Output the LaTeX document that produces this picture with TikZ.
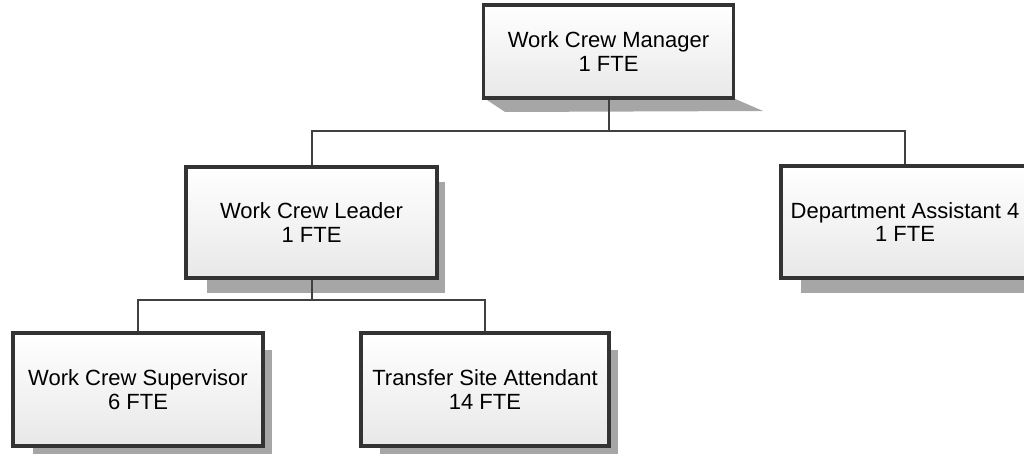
\documentclass[tikz,border=0pt]{standalone}
\usepackage{fontspec}
\setmainfont{Liberation Sans}
\begin{document}
\begin{tikzpicture}[x=1pt,y=-1pt,
  box/.style={draw=black!80, line width=3.5pt, top color=white, bottom color=black!9,
    minimum width=#1, inner sep=0pt, align=center,
    font=\fontsize{22}{23.5}\selectfont},
  conn/.style={draw=black!75, line width=2pt}]
\useasboundingbox (0,0) rectangle (1024,454);
% shadows
\fill[black!35] (484,98) -- (733,98) -- (763,111) -- (505,112) -- cycle;
\fill[black!35] (207,182) rectangle (445,293);
\fill[black!35] (801,181) rectangle (1040,293);
\fill[black!35] (33,350) rectangle (272,462);
\fill[black!35] (380,350) rectangle (618,462);
% boxes
\node[box=250pt, minimum height=93pt] (mgr) at (608.5,51.5) {Work Crew Manager\\1 FTE};
\node[box=251pt, minimum height=111pt] (lead) at (311.5,222.5) {Work Crew Leader\\1 FTE};
\node[box=248pt, minimum height=112pt] (dept) at (905,222) {Department Assistant 4\\1 FTE};
\node[box=250pt, minimum height=113pt] (sup) at (138,389.5) {Work Crew Supervisor\\6 FTE};
\node[box=248pt, minimum height=113pt] (tsa) at (485,389.5) {Transfer Site Attendant\\14 FTE};
% connectors
\coordinate (j1) at (608.5,131);
\coordinate (j2) at (311.5,300);
\draw[conn] (mgr.south) -- (j1);
\draw[conn] (lead.north) |- (j1) -| (dept.north);
\draw[conn] (lead.south) -- (j2);
\draw[conn] (sup.north) |- (j2) -| (tsa.north);
\end{tikzpicture}
\end{document}
